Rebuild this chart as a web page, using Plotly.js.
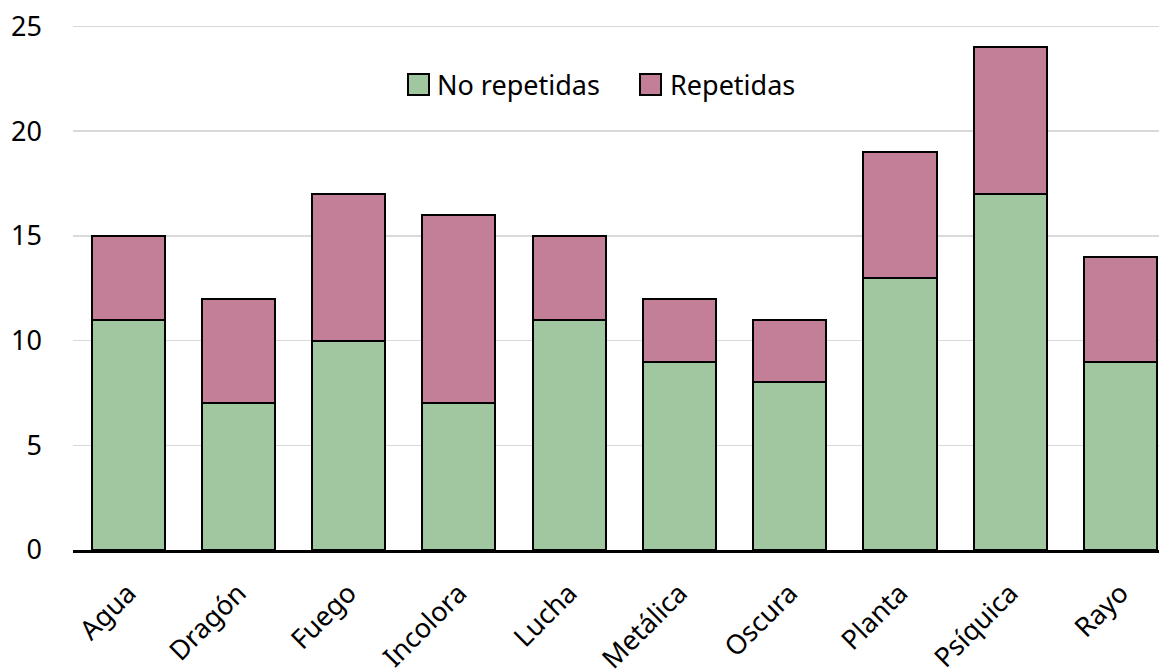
<!DOCTYPE html>
<html>
<head>
<meta charset="utf-8">
<script src="https://cdn.plot.ly/plotly-3.0.1.min.js"></script>
<style>html,body{margin:0;padding:0;background:#fff;}#chart{width:1159px;height:671px;}</style>
</head>
<body>
<div id="chart"></div>
<script>
const categories = ["Agua", "Dragón", "Fuego", "Incolora", "Lucha", "Metálica", "Oscura", "Planta", "Psíquica", "Rayo"];
const noRepetidas = [11, 7, 10, 7, 11, 9, 8, 13, 17, 9];
const repetidas = [4, 5, 7, 9, 4, 3, 3, 6, 7, 5];
const yTicks = [0, 5, 10, 15, 20, 25];
const seriesNames = ["No repetidas", "Repetidas"];
const seriesColors = ["#a0c7a0", "#c47f98"];

const FONT = "Noto Sans, Open Sans, sans-serif";

const traces = [
  {
    type: "bar", name: seriesNames[0], x: categories, y: noRepetidas, showlegend: false,
    marker: {color: seriesColors[0], line: {color: "#000", width: 2}}
  },
  {
    type: "bar", name: seriesNames[1], x: categories, y: repetidas, showlegend: false,
    marker: {color: seriesColors[1], line: {color: "#000", width: 2}}
  }
];

// Legend drawn as annotations (larger swatches than Plotly's fixed legend symbol)
const legendY = 0.8717;
const swatchX = [0.3181, 0.5322];
const labelX = [0.3333, 0.5479];
const annotations = [];
for (let i = 0; i < seriesNames.length; i++) {
  annotations.push({
    xref: "paper", yref: "paper", x: swatchX[i], y: legendY,
    xanchor: "center", yanchor: "middle", showarrow: false,
    text: " ", font: {size: 4}, width: 19, height: 19,
    bgcolor: seriesColors[i], bordercolor: "#000", borderwidth: 2, borderpad: 0
  });
  annotations.push({
    xref: "paper", yref: "paper", x: labelX[i], y: legendY,
    xanchor: "left", yanchor: "middle", showarrow: false,
    text: seriesNames[i], font: {family: FONT, size: 27, color: "#000"}
  });
}

const layout = {
  width: 1159, height: 671,
  barmode: "stack",
  bargap: 0.336,
  margin: {l: 73, r: 0, t: 16, b: 121},
  paper_bgcolor: "#ffffff",
  plot_bgcolor: "#ffffff",
  font: {family: FONT, size: 27, color: "#000"},
  showlegend: false,
  annotations: annotations,
  xaxis: {
    type: "category", range: [-0.5, 9.35], tickangle: -45,
    showline: true, linecolor: "#000", linewidth: 2.5,
    ticks: "", showgrid: false, zeroline: false,
    ticklabelstandoff: 14,
    tickfont: {family: FONT, size: 27, color: "#000"}
  },
  yaxis: {
    range: [0, 25.5], tickvals: yTicks, ticktext: yTicks.map(String),
    showgrid: true, gridcolor: "#d9d9d9", gridwidth: 1.5,
    zeroline: false, showline: false, ticks: "",
    ticklabelstandoff: 30,
    tickfont: {family: FONT, size: 27, color: "#000"}
  }
};

Plotly.newPlot("chart", traces, layout, {displayModeBar: false, staticPlot: true});
</script>
</body>
</html>
